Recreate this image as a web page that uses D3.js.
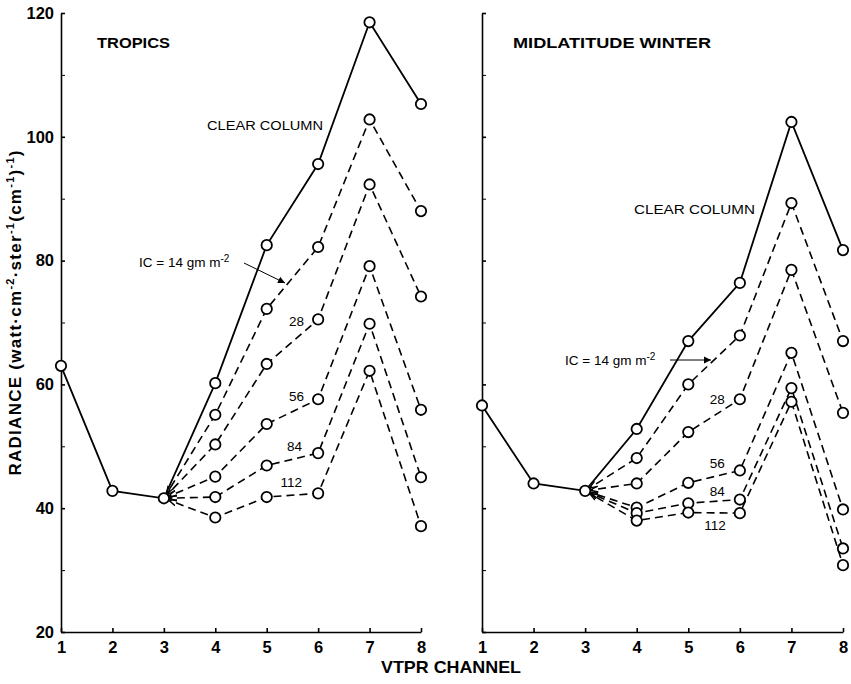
<!DOCTYPE html>
<html>
<head>
<meta charset="utf-8">
<script src="https://cdn.jsdelivr.net/npm/d3@7"></script>
<style>
  body { margin: 0; background: #fff; }
  svg { display: block; }
  text { font-family: "Liberation Sans", Arial, sans-serif; fill: #000; }
</style>
</head>
<body>
<script>
// VTPR channel radiances for clear and cloudy columns (IC = ice content, gm m^-2)
const channels = [1, 2, 3, 4, 5, 6, 7, 8];
const cloudChannels = [3, 4, 5, 6, 7, 8];
const yTickValues = [20, 40, 60, 80, 100, 120];
const yMinorTickValues = [30, 50, 70, 90, 110];
const icLevels = [14, 28, 56, 84, 112];

// Tropics
const tropicsClear = [63.0, 42.8, 41.6, 60.2, 82.5, 95.6, 118.5, 105.3];
const tropicsIC14  = [41.6, 55.1, 72.2, 82.2, 102.8, 88.0];
const tropicsIC28  = [41.6, 50.3, 63.3, 70.5, 92.3, 74.2];
const tropicsIC56  = [41.6, 45.1, 53.6, 57.6, 79.1, 55.9];
const tropicsIC84  = [41.6, 41.8, 46.9, 48.9, 69.8, 45.0];
const tropicsIC112 = [41.6, 38.5, 41.8, 42.4, 62.2, 37.1];

// Midlatitude winter
const winterClear = [56.6, 44.0, 42.8, 52.8, 67.0, 76.4, 102.4, 81.7];
const winterIC14  = [42.8, 48.1, 60.0, 67.9, 89.3, 67.0];
const winterIC28  = [42.8, 44.0, 52.3, 57.6, 78.5, 55.4];
const winterIC56  = [42.8, 40.1, 44.1, 46.1, 65.1, 39.8];
const winterIC84  = [42.8, 39.2, 40.8, 41.4, 59.4, 33.5];
const winterIC112 = [42.8, 38.0, 39.3, 39.2, 57.2, 30.8];

const W = 851, H = 684;
const svg = d3.select("body").append("svg").attr("width", W).attr("height", H);

const y = d3.scaleLinear().domain([20, 120]).range([632, 13]);

// arrowheads pointing back toward the channel-3 convergence point
const defs = svg.append("defs");
defs.append("marker")
  .attr("id", "conv")
  .attr("markerUnits", "userSpaceOnUse")
  .attr("markerWidth", 20).attr("markerHeight", 10)
  .attr("viewBox", "0 -5 20 10")
  .attr("refX", 13).attr("refY", 0)
  .attr("orient", "auto-start-reverse")
  .append("path").attr("d", "M0,-3L8,0L0,3").attr("fill", "none")
  .attr("stroke", "#000").attr("stroke-width", 1.4);
defs.append("marker")
  .attr("id", "lead")
  .attr("markerUnits", "userSpaceOnUse")
  .attr("markerWidth", 12).attr("markerHeight", 10)
  .attr("viewBox", "0 -5 12 10")
  .attr("refX", 7).attr("refY", 0)
  .attr("orient", "auto")
  .append("path").attr("d", "M0,-3.5L7,0L0,3.5Z").attr("fill", "#000");

const panels = [
  {
    title: "TROPICS",
    xRange: [61, 421],
    showLabels: true,
    clear: tropicsClear,
    cloudy: [tropicsIC14, tropicsIC28, tropicsIC56, tropicsIC84, tropicsIC112],
    layout: {
      title: [97, 48, 73],
      clearLabel: [207, 130, 116],
      icLabel: [139, 267],
      leader: [[244, 263], [285, 283]],
      // offsets of the IC labels from the channel-6 point of each curve
      icOffsets: { 28: [-14, 7], 56: [-14, 2], 84: [-16, -2], 112: [-16, -6] }
    }
  },
  {
    title: "MIDLATITUDE WINTER",
    xRange: [482, 843],
    showLabels: false,
    clear: winterClear,
    cloudy: [winterIC14, winterIC28, winterIC56, winterIC84, winterIC112],
    layout: {
      title: [513, 48, 198],
      clearLabel: [634, 214, 121],
      icLabel: [565, 365],
      leader: [[670, 360], [711, 360]],
      icOffsets: { 28: [-15, 5], 56: [-15, -2], 84: [-15, -4], 112: [-14, 17] }
    }
  }
];

panels.forEach(p => {
  const x = d3.scaleLinear().domain([1, 8]).range(p.xRange);
  const g = svg.append("g");

  // y axis, ticks pointing inward
  const yAxis = d3.axisLeft(y).tickValues(yTickValues).tickSize(-4).tickSizeOuter(0)
    .tickPadding(7).tickFormat(p.showLabels ? d3.format("d") : () => "");
  const ya = g.append("g").attr("transform", `translate(${p.xRange[0]},0)`).call(yAxis);
  g.append("g").attr("transform", `translate(${p.xRange[0]},0)`)
    .call(d3.axisLeft(y).tickValues(yMinorTickValues).tickSize(-4).tickSizeOuter(0).tickFormat(() => ""))
    .select(".domain").remove();

  // x axis
  const xAxis = d3.axisBottom(x).tickValues(channels).tickSize(-4).tickSizeOuter(0).tickPadding(9)
    .tickFormat(d3.format("d"));
  const xa = g.append("g").attr("transform", `translate(0,${y(20)})`).call(xAxis);

  [ya, xa].forEach(a => {
    a.selectAll("path, line").attr("stroke", "#000").attr("stroke-width", 1.6);
    a.selectAll("text").style("font-family", "Liberation Sans, Arial, sans-serif")
      .style("font-size", "16.5px").style("font-weight", "bold").attr("fill", "#000");
  });

  const line = d3.line().x(d => x(d[0])).y(d => y(d[1]));

  // cloudy columns, dashed, converging at channel 3
  p.cloudy.forEach(vals => {
    const pts = cloudChannels.map((c, i) => [c, vals[i]]);
    g.append("path").attr("d", line(pts)).attr("fill", "none")
      .attr("stroke", "#000").attr("stroke-width", 1.6)
      .attr("stroke-dasharray", "8,5")
      .attr("marker-start", "url(#conv)");
  });

  // clear column, solid
  const clearPts = channels.map((c, i) => [c, p.clear[i]]);
  g.append("path").attr("d", line(clearPts)).attr("fill", "none")
    .attr("stroke", "#000").attr("stroke-width", 1.8);

  // open circles
  const allPts = clearPts.concat(...p.cloudy.map(vals => cloudChannels.map((c, i) => [c, vals[i]]).slice(1)));
  g.selectAll("circle.pt").data(allPts).join("circle").attr("class", "pt")
    .attr("cx", d => x(d[0])).attr("cy", d => y(d[1])).attr("r", 5.2)
    .attr("fill", "#fff").attr("stroke", "#000").attr("stroke-width", 1.8);

  const L = p.layout;
  g.append("text").attr("x", L.title[0]).attr("y", L.title[1])
    .attr("textLength", L.title[2]).attr("lengthAdjust", "spacingAndGlyphs")
    .style("font-size", "15px").style("font-weight", "bold").text(p.title);

  g.append("text").attr("x", L.clearLabel[0]).attr("y", L.clearLabel[1])
    .attr("textLength", L.clearLabel[2]).attr("lengthAdjust", "spacingAndGlyphs")
    .style("font-size", "12.5px").text("CLEAR COLUMN");

  const ic = g.append("text").attr("x", L.icLabel[0]).attr("y", L.icLabel[1]).style("font-size", "13.5px");
  ic.append("tspan").text("IC = 14 gm m");
  ic.append("tspan").attr("dy", -5).style("font-size", "10px").text("-2");

  g.append("path").attr("d", d3.line()(L.leader)).attr("fill", "none")
    .attr("stroke", "#000").attr("stroke-width", 1).attr("marker-end", "url(#lead)");

  // IC amount labels beside the channel-6 point of each curve
  icLevels.slice(1).forEach(lvl => {
    const vals = p.cloudy[icLevels.indexOf(lvl)];
    const off = L.icOffsets[lvl];
    g.append("text").attr("x", x(6) + off[0]).attr("y", y(vals[3]) + off[1])
      .attr("text-anchor", "end").style("font-size", "13.5px").text(lvl);
  });
});

// shared axis titles
svg.append("text").attr("x", 451).attr("y", 673).attr("text-anchor", "middle")
  .style("font-size", "17px").style("font-weight", "bold")
  .attr("textLength", 140).attr("lengthAdjust", "spacingAndGlyphs").text("VTPR CHANNEL");

const yt = svg.append("text").attr("transform", "translate(21,313) rotate(-90)")
  .attr("text-anchor", "middle").style("font-size", "17px").style("font-weight", "bold")
  .attr("textLength", 325).attr("lengthAdjust", "spacing");
yt.append("tspan").text("RADIANCE (watt·cm");
yt.append("tspan").attr("dy", -7).style("font-size", "11px").text("-2");
yt.append("tspan").attr("dy", 7).text("·ster");
yt.append("tspan").attr("dy", -7).style("font-size", "11px").text("-1");
yt.append("tspan").attr("dy", 7).text("(cm");
yt.append("tspan").attr("dy", -7).style("font-size", "11px").text("-1");
yt.append("tspan").attr("dy", 7).text(")");
yt.append("tspan").attr("dy", -7).style("font-size", "11px").text("-1");
yt.append("tspan").attr("dy", 7).text(")");
</script>
</body>
</html>
